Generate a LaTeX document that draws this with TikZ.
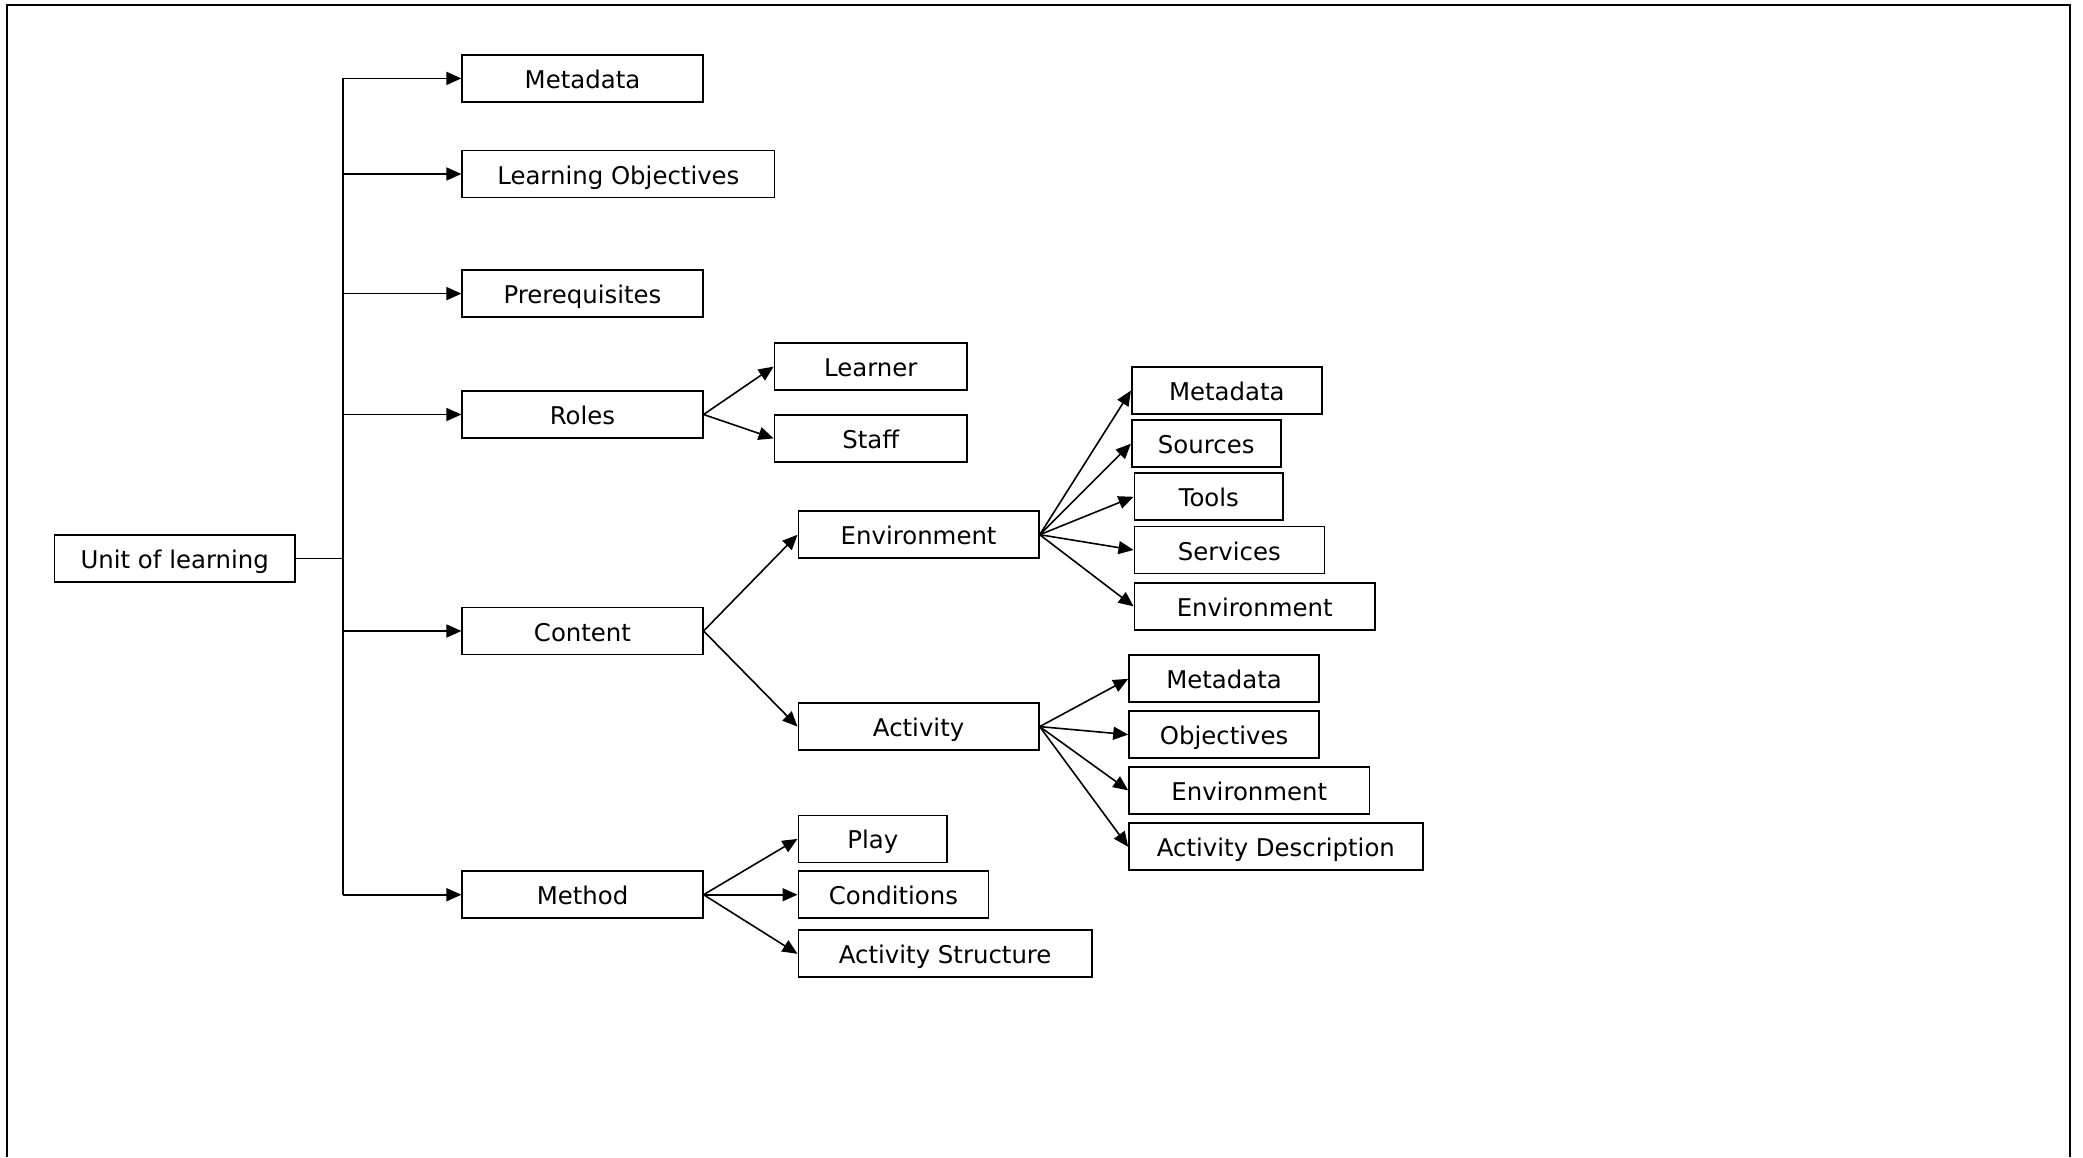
\documentclass[tikz,border=0pt]{standalone}
\usepackage{fontspec}
\setmainfont{DejaVu Sans}
\usetikzlibrary{arrows.meta}
\begin{document}
\begin{tikzpicture}[x=0.5pt,y=-0.5pt,
  box/.style={draw, line width=0.9pt, minimum height=23.5pt, inner sep=0pt,
    text height=10pt, text depth=0pt, font=\fontsize{12.2}{14}\selectfont},
  link/.style={line width=0.8pt, -{Triangle[length=7.5pt,width=6.5pt]}},
  plain/.style={line width=0.8pt},
]
\useasboundingbox (0,0) rectangle (2083,1157);
% page frame (open at the bottom)
\draw[line width=1pt] (7,1157) -- (7,5) -- (2070,5) -- (2070,1157);

% root
\node[box, minimum width=120.2pt] (unit) at (174.7,558.5) {Unit of learning};

% first level
\node[box, minimum width=120.2pt] (meta)   at (582.5,78.4)  {Metadata};
\node[box, minimum width=156.1pt] (lobj)   at (618.4,174.0) {Learning Objectives};
\node[box, minimum width=120.2pt] (prereq) at (582.5,293.6) {Prerequisites};
\node[box, minimum width=120.2pt] (roles)  at (582.5,414.5) {Roles};
\node[box, minimum width=120.2pt] (content) at (582.5,631.0) {Content};
\node[box, minimum width=120.2pt] (method) at (582.5,894.7) {Method};

% roles
\node[box, minimum width=96.3pt] (learner) at (870.8,366.6) {Learner};
\node[box, minimum width=96.3pt] (staff)   at (870.8,438.4) {Staff};

% content
\node[box, minimum width=120.2pt] (env) at (918.6,534.7) {Environment};
\node[box, minimum width=120.2pt] (act) at (918.6,726.6) {Activity};

% method
\node[box, minimum width=74.4pt]  (play)  at (872.8,838.9) {Play};
\node[box, minimum width=95pt]    (cond)  at (893.4,894.7) {Conditions};
\node[box, minimum width=146.8pt] (astr)  at (945.2,953.8) {Activity Structure};

% environment parts
\node[box, minimum width=95pt]    (emeta) at (1226.8,390.6) {Metadata};
\node[box, minimum width=74.4pt]  (esrc)  at (1206.2,443.7) {Sources};
\node[box, minimum width=74.4pt]  (etool) at (1208.8,496.8) {Tools};
\node[box, minimum width=95pt]    (eserv) at (1229.4,550.0) {Services};
\node[box, minimum width=120.2pt] (eenv)  at (1254.7,606.4) {Environment};

% activity parts
\node[box, minimum width=95pt]    (ameta) at (1224.1,678.8) {Metadata};
\node[box, minimum width=95pt]    (aobj)  at (1224.1,734.6) {Objectives};
\node[box, minimum width=120.2pt] (aenv)  at (1249.3,790.4) {Environment};
\node[box, minimum width=146.8pt] (adesc) at (1275.9,846.8) {Activity Description};

% trunk
\coordinate (trk) at (342.7,0);
\draw[plain] (unit.east) -- (unit.east -| trk);
\draw[plain] (trk |- meta.west) -- (trk |- method.west);
\foreach \n in {meta,lobj,prereq,roles,content,method}
  \draw[link] (trk |- \n.west) -- (\n.west);

% branches
\foreach \n in {learner,staff} \draw[link] (roles.east) -- (\n.west);
\foreach \n in {env,act} \draw[link] (content.east) -- (\n.west);
\foreach \n in {play,cond,astr} \draw[link] (method.east) -- (\n.west);
\foreach \n in {emeta,esrc,etool,eserv,eenv} \draw[link] (env.east) -- (\n.west);
\foreach \n in {ameta,aobj,aenv,adesc} \draw[link] (act.east) -- (\n.west);
\end{tikzpicture}
\end{document}
